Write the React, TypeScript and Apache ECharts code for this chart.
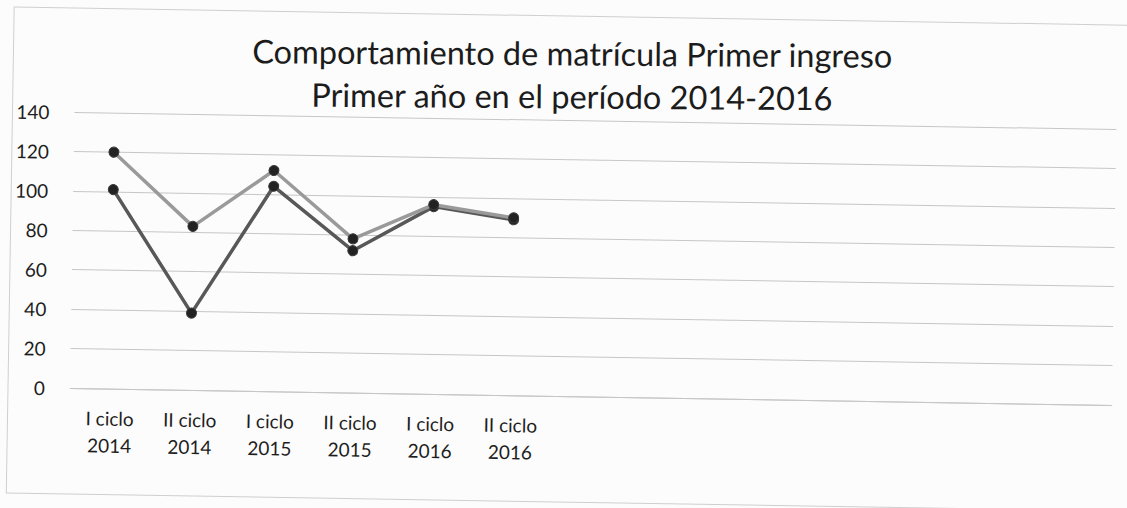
import React, { useEffect, useRef } from "react";
import * as echarts from "echarts";

const categories = [
  "I ciclo\n2014",
  "II ciclo\n2014",
  "I ciclo\n2015",
  "II ciclo\n2015",
  "I ciclo\n2016",
  "II ciclo\n2016",
];
// empty slots that Excel left on the category axis
const emptySlots = ["", "", "", "", "", "", ""];
const seriesGray = [120, 83, 112, 78, 96, 90];
const seriesDark = [101, 39, 104, 72, 95, 89];
const yTicks = { min: 0, max: 140, interval: 20 };
const titleLines = [
  "Comportamiento de matrícula Primer ingreso",
  "Primer año en el período 2014-2016",
];

const FONT = "Lato, 'Open Sans', sans-serif";

export default function App() {
  const ref = useRef<HTMLDivElement>(null);
  const titleRef = useRef<HTMLDivElement>(null);
  useEffect(() => {
    if (!ref.current || !titleRef.current) return;
    const chart = echarts.init(ref.current, undefined, { renderer: "svg" });
    const titleChart = echarts.init(titleRef.current, undefined, { renderer: "svg" });
    const titleStyle = {
      fontFamily: FONT,
      fontSize: 32.5,
      fontWeight: "normal",
      color: "#1c1c1c",
      lineHeight: 36,
    };
    titleChart.setOption({
      animation: false,
      backgroundColor: "transparent",
      title: [
        { text: titleLines[0], left: 572, top: 35, textAlign: "center", padding: 0, textStyle: titleStyle },
        { text: titleLines[1], left: 572, top: 78, textAlign: "center", padding: 0, textStyle: titleStyle },
      ],
    });
    chart.setOption({
      animation: false,
      backgroundColor: "transparent",
      graphic: [
        {
          type: "rect",
          shape: { x: 8, y: 8, width: 1250, height: 486 },
          style: { fill: "none", stroke: "#cfcfcf", lineWidth: 1 },
          silent: true,
          z: -1,
        },
      ],
      grid: { left: 70, right: 68, top: 112, bottom: 132, containLabel: false },
      xAxis: {
        type: "category",
        data: [...categories, ...emptySlots],
        boundaryGap: true,
        axisLine: { show: true, lineStyle: { color: "#c6c6c6", width: 1 } },
        axisTick: { show: false },
        axisLabel: {
          interval: 0,
          fontFamily: FONT,
          fontSize: 19,
          lineHeight: 27,
          color: "#1e1e1e",
          margin: 16,
        },
        splitLine: { show: false },
      },
      yAxis: {
        type: "value",
        min: yTicks.min,
        max: yTicks.max,
        interval: yTicks.interval,
        axisLine: { show: false },
        axisTick: { show: false },
        axisLabel: {
          fontFamily: FONT,
          fontSize: 19,
          color: "#1e1e1e",
          margin: 25,
        },
        splitLine: { show: true, lineStyle: { color: "#c6c6c6", width: 1 } },
      },
      series: [
        {
          name: "Serie 1",
          type: "line",
          data: seriesDark,
          symbol: "circle",
          symbolSize: 10,
          lineStyle: { color: "#585858", width: 3.5 },
          itemStyle: { color: "#222", borderColor: "#3a3a3a", borderWidth: 1 },
          z: 2,
        },
        {
          name: "Serie 2",
          type: "line",
          data: seriesGray,
          symbol: "circle",
          symbolSize: 10,
          lineStyle: { color: "#9a9a9a", width: 3.5 },
          itemStyle: { color: "#222", borderColor: "#3a3a3a", borderWidth: 1 },
          z: 3,
        },
      ],
    });
    return () => {
      chart.dispose();
      titleChart.dispose();
    };
  }, []);

  return (
    <div
      style={{
        position: "fixed",
        left: 0,
        top: 0,
        width: 1127,
        height: 508,
        overflow: "hidden",
        background: "#fcfcfc",
      }}
    >
      <div
        ref={ref}
        style={{
          position: "absolute",
          left: 0,
          top: 0,
          width: 1180,
          height: 520,
          transform: "rotate(0.93deg)",
          transformOrigin: "67px 388px",
        }}
      />
      <div
        ref={titleRef}
        style={{
          position: "absolute",
          left: 0,
          top: 0,
          width: 1127,
          height: 130,
          pointerEvents: "none",
          transform: "rotate(0.4deg)",
          transformOrigin: "572px 85px",
        }}
      />
    </div>
  );
}
